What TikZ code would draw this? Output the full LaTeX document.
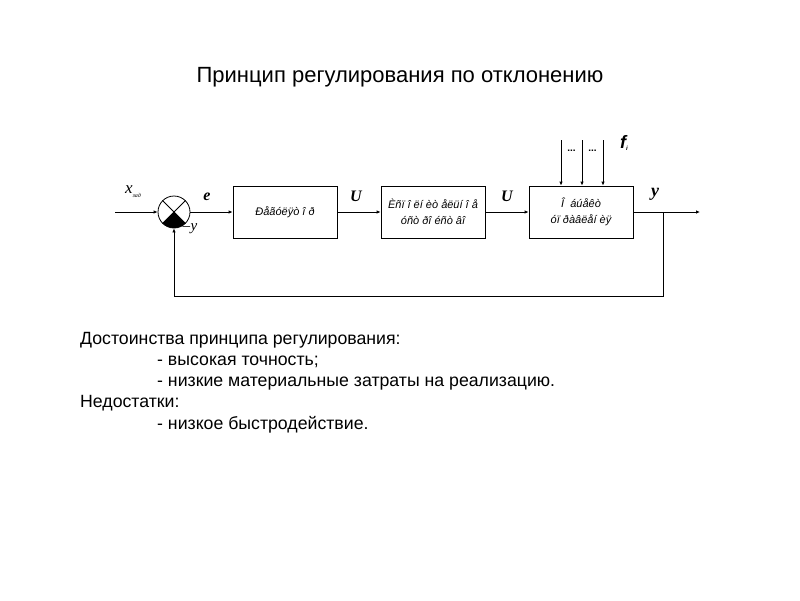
\documentclass[tikz,border=0pt]{standalone}
\usepackage{fontspec}
\setmainfont{Liberation Sans}
\newfontfamily\serifit{Liberation Serif}
\usetikzlibrary{arrows.meta}

\begin{document}
\begin{tikzpicture}[x=1pt, y=-1pt,
    blk/.style={draw, thick, minimum width=104pt, minimum height=52pt,
                font=\fontsize{11}{16}\selectfont\itshape, align=center, inner sep=1pt},
    arr/.style={thick, -{Latex[length=4pt, width=3.5pt]}},
    sig/.style={font=\serifit\bfseries\itshape\fontsize{16}{16}\selectfont},
    txt/.style={anchor=base west, font=\fontsize{17.7}{19}\selectfont, inner sep=0pt}]
    \useasboundingbox (0,0) rectangle (800,600);

    % title
    \node[anchor=base, font=\fontsize{22}{24}\selectfont, inner sep=0pt] (title) at (400,82) {Принцип регулирования по отклонению};

    % summator
    \node[draw, thick, circle, minimum size=32pt, inner sep=0pt] (sum) at (174,212) {};
    \begin{scope}
        \clip (sum.center) circle[radius=16pt];
        \fill (sum.center) -- ++(-30,30) -- ++(60,0) -- cycle;
    \end{scope}
    \draw[thick] (sum.north west) -- (sum.south east);
    \draw[thick] (sum.north east) -- (sum.south west);

    % blocks
    \node[blk] (reg) at (285,212) {Ðåãóëÿò î ð};
    \node[blk] (act) at (433,212) {Èñï î ëí èò åëüí î å\\óñò ðî éñò âî};
    \node[blk] (obj) at (581,212) {Î\ \ áúåêò\\óï ðàâëåí èÿ};

    % signals
    \coordinate (in) at (115,212);
    \coordinate (out) at (700,212);
    \coordinate (br) at (663,212);
    \draw[arr] (in) -- (sum.west);
    \draw[arr] (sum.east) -- (reg.west);
    \draw[arr] (reg.east) -- (act.west);
    \draw[arr] (act.east) -- (obj.west);
    \draw[arr] (obj.east) -- (out);
    \draw[arr] (br) -- (br |- 0,296) -| (sum.south);

    % disturbances
    \foreach \x [count=\i] in {561,582,603}{
        \coordinate (f\i) at (\x,140);
        \draw[arr] (f\i) -- (f\i |- obj.north);
    }
    \node[font=\bfseries\fontsize{10}{10}\selectfont] (dots1) at (571.5,151) {...};
    \node[font=\bfseries\fontsize{10}{10}\selectfont] (dots2) at (592.5,151) {...};
    \node[font=\bfseries\itshape\fontsize{18}{18}\selectfont] (fi) at (624,143) {f\raisebox{-0.3ex}{\fontsize{6}{6}\selectfont\itshape i}};

    % labels
    \node[font=\serifit\itshape\fontsize{17}{17}\selectfont] (xz) at (133,192) {x\raisebox{-0.5ex}{\fontsize{6}{6}\selectfont зад}};
    \node[sig] (le) at (207,197) {e};
    \node[sig] (lu1) at (356,196) {U};
    \node[sig] (lu2) at (507,196) {U};
    \node[sig, font=\serifit\bfseries\itshape\fontsize{18}{18}\selectfont] (ly) at (655,194) {y};
    \node[font=\serifit\itshape\fontsize{15}{15}\selectfont, inner sep=0pt] (my) at (190,229) {–\kern0.5pt y};

    % text
    \node[txt] (t1) at (80,344) {Достоинства принципа регулирования:};
    \node[txt] (t2) at (157,365) {- высокая точность;};
    \node[txt] (t3) at (157,386) {- низкие материальные затраты на реализацию.};
    \node[txt] (t4) at (80,407) {Недостатки:};
    \node[txt] (t5) at (157,429) {- низкое быстродействие.};
\end{tikzpicture}
\end{document}
